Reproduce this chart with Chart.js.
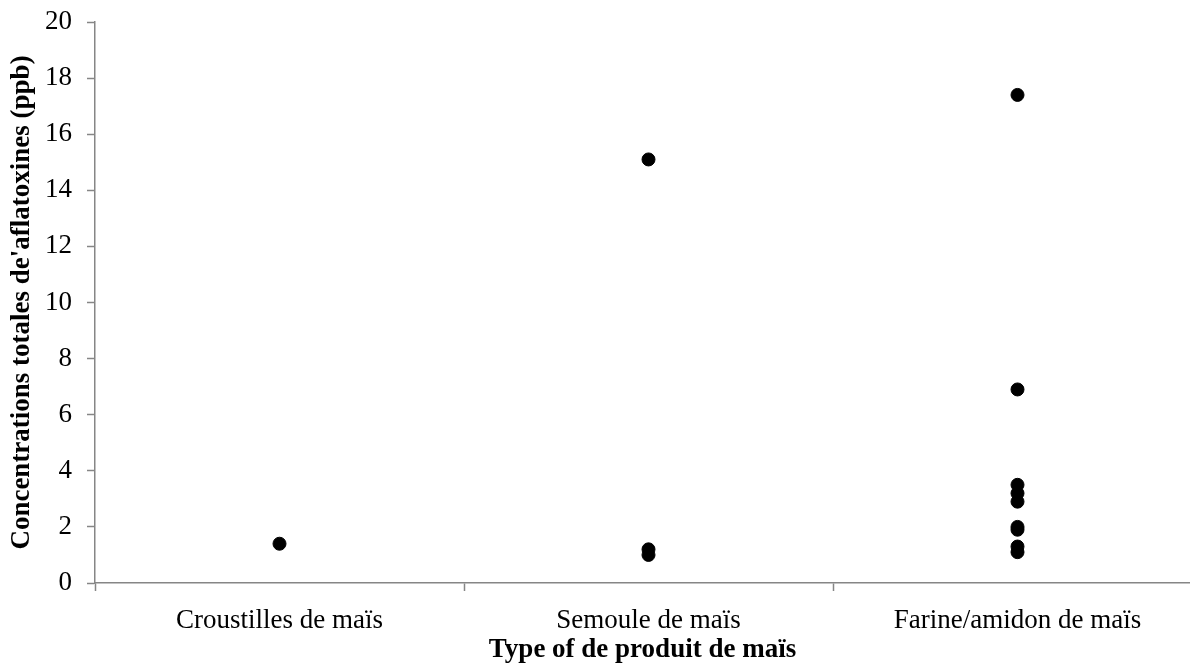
<!DOCTYPE html>
<html>
<head>
<meta charset="utf-8">
<script src="https://cdn.jsdelivr.net/npm/chart.js@4.4.1/dist/chart.umd.min.js"></script>
<style>
  html, body { margin: 0; padding: 0; background: #fff; overflow: hidden; }
  #wrap { width: 1190px; height: 663px; }
</style>
</head>
<body>
<div id="wrap"><canvas id="chart"></canvas></div>
<script>
// categories and values
const categories = ["Croustilles de maïs", "Semoule de maïs", "Farine/amidon de maïs"];
const croustilles = [1.4];
const semoule = [15.1, 1.2, 1.0];
const farine = [17.4, 6.9, 3.5, 3.2, 2.9, 2.0, 1.9, 1.3, 1.1];
const yTicks = [0, 2, 4, 6, 8, 10, 12, 14, 16, 18, 20];

const groups = [croustilles, semoule, farine];
const points = [];
groups.forEach((vals, i) => {
  vals.forEach((v) => points.push({ x: i + 0.5, y: v }));
});

const serif = "'Liberation Serif', 'Times New Roman', serif";
const axisGray = "#868686";

new Chart(document.getElementById("chart"), {
  type: "scatter",
  data: {
    datasets: [
      {
        data: points,
        backgroundColor: "#000",
        borderColor: "#000",
        pointRadius: 6.5,
        pointHoverRadius: 6.5,
      },
    ],
  },
  options: {
    responsive: true,
    maintainAspectRatio: false,
    animation: false,
    layout: { autoPadding: false, padding: { top: 0, right: 0, left: 6, bottom: 0 } },
    plugins: { legend: { display: false }, tooltip: { enabled: false } },
    scales: {
      x: {
        type: "linear",
        min: 0,
        max: (1190 - 95) / 369,
        afterBuildTicks: (axis) => {
          axis.ticks = [0, 0.5, 1, 1.5, 2, 2.5].map((v) => ({ value: v }));
        },
        afterFit: (axis) => { axis.height = 80; },
        border: { display: true, color: axisGray, width: 1.5 },
        grid: {
          display: true,
          drawOnChartArea: false,
          drawTicks: true,
          tickLength: 8,
          tickWidth: 1.5,
          tickColor: (ctx) => (ctx.tick && ctx.tick.value % 1 === 0 ? axisGray : "rgba(0,0,0,0)"),
        },
        ticks: {
          autoSkip: false,
          maxRotation: 0,
          padding: 14,
          color: "#000",
          font: { family: serif, size: 27 },
          callback: (v) => (v % 1 === 0 ? "" : categories[Math.floor(v)]),
        },
        title: {
          display: true,
          text: "Type of de produit de maïs",
          color: "#000",
          font: { family: serif, size: 27, weight: "bold" },
          padding: { top: 0, bottom: -3 },
        },
      },
      y: {
        min: 0,
        max: 20,
        afterBuildTicks: (axis) => {
          axis.ticks = yTicks.map((v) => ({ value: v }));
        },
        afterFit: (axis) => {
          axis.width = 89;
          axis.paddingTop = 22;
          axis.paddingBottom = 0;
        },
        border: { display: true, color: axisGray, width: 1.5 },
        grid: {
          display: true,
          drawOnChartArea: false,
          drawTicks: true,
          tickLength: 8,
          tickWidth: 1.5,
          tickColor: axisGray,
        },
        ticks: {
          padding: 15,
          color: "#000",
          font: { family: serif, size: 27 },
        },
        title: {
          display: true,
          text: "Concentrations totales de'aflatoxines (ppb)",
          color: "#000",
          font: { family: serif, size: 27, weight: "bold" },
          padding: { top: 0, bottom: 0 },
        },
      },
    },
  },
});
</script>
</body>
</html>
